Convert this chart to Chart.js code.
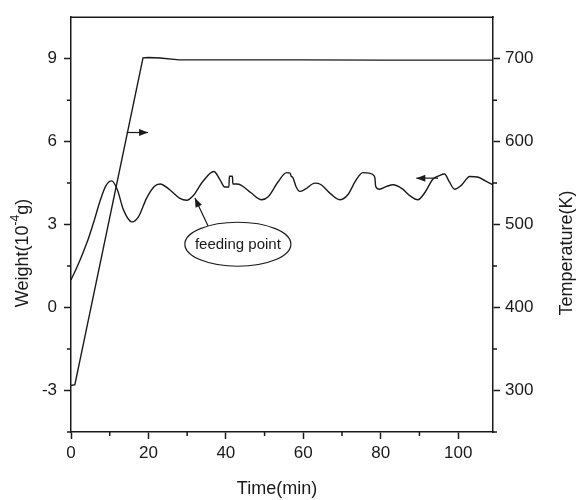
<!DOCTYPE html>
<html>
<head>
<meta charset="utf-8">
<script src="https://cdn.jsdelivr.net/npm/chart.js@4.4.1/dist/chart.umd.min.js"></script>
<style>
  html, body { margin: 0; padding: 0; background: #fff; }
</style>
</head>
<body>
<canvas id="chart" width="582" height="500"></canvas>
<script>
// weight (left axis, 10^-4 g) vs time (min)
const weightTime = [0, 1.5, 3, 4.5, 6, 7.5, 9, 10.5, 12, 13.5, 15.7, 17.5, 19.5, 21.5, 23, 25.5, 28, 29.9,
  31.6, 34, 36.9, 38.5, 39.7, 40.8, 40.9, 41.7, 41.8, 42.8, 44, 46.5, 49.2, 51, 53.5, 55.7, 56.6, 56.9,
  57.2, 58.2, 59.1, 60.5, 63, 64.5, 67, 69.4, 71.5, 73.5, 75.4, 77, 78.3, 78.5, 78.7, 79.7, 81.5, 83.2,
  85.5, 87.5, 89.6, 91.5, 93.5, 95, 96.5, 97.7, 99.1, 100.8, 103, 105, 107, 109]
const weightValue = [1.0, 1.45, 1.95, 2.5, 3.15, 3.85, 4.4, 4.58, 4.25, 3.55, 3.1, 3.3, 3.95, 4.38, 4.47, 4.26, 3.96, 3.88,
  4.05, 4.55, 4.92, 4.62, 4.36, 4.36, 4.75, 4.75, 4.47, 4.47, 4.42, 4.15, 3.9, 4.02, 4.55, 4.88, 4.86, 4.74,
  4.72, 4.35, 4.2, 4.28, 4.5, 4.45, 4.12, 3.9, 4.08, 4.58, 4.88, 4.86, 4.76, 4.68, 4.38, 4.28, 4.38, 4.44,
  4.3, 4.05, 3.9, 4.18, 4.65, 4.76, 4.83, 4.55, 4.28, 4.42, 4.74, 4.72, 4.58, 4.44]

// temperature (right axis, K) vs time (min)
const tempTime = [0, 1, 18.6, 20, 23, 28, 40, 60, 80, 100, 109]
const tempValue = [306, 307, 701, 701.5, 700.8, 698.5, 698.5, 698.5, 698.3, 698.3, 698.3]

// tick labels
const timeTicks = [0, 20, 40, 60, 80, 100]
const weightTicks = [-3, 0, 3, 6, 9]
const tempTicks = [300, 400, 500, 600, 700]

// annotations (data units)
const tempArrow = { from: 14.4, to: 19.9, value: 611 }
const weightArrow = { from: 94.8, to: 89.2, value: 4.68 }
const feedArrow = { fromT: 35.4, fromW: 2.95, toT: 32.0, toW: 3.96 }
const feedLabel = { t: 43.1, w: 2.29, text: 'feeding point' }

const INK = '#1a1a1a'
const FONT = '"Liberation Sans", Arial, sans-serif'

const isMajor = (list, v) => list.includes(Math.round(v * 100) / 100)

function axis(majors, extra) {
  return Object.assign({
    border: { display: true, color: INK, width: 1.5 },
    grid: {
      display: true,
      drawOnChartArea: false,
      drawTicks: true,
      tickLength: 7,
      tickWidth: 1.5,
      tickColor: (ctx) => (ctx.tick && isMajor(majors, ctx.tick.value) ? INK : 'rgba(0,0,0,0)'),
    },
    ticks: {
      color: INK,
      font: { family: FONT, size: 17 },
      includeBounds: false,
      autoSkip: false,
      maxRotation: 0,
      callback: (v) => (isMajor(majors, v) ? String(v) : ''),
    },
  }, extra)
}

function arrowHead(ctx, x, y, dx, dy, len, half) {
  const n = Math.hypot(dx, dy)
  const ux = dx / n, uy = dy / n
  ctx.beginPath()
  ctx.moveTo(x, y)
  ctx.lineTo(x - ux * len - uy * half, y - uy * len + ux * half)
  ctx.lineTo(x - ux * len + uy * half, y - uy * len - ux * half)
  ctx.closePath()
  ctx.fill()
}

const decorations = {
  id: 'decorations',
  afterDraw(chart) {
    const { ctx, chartArea, scales } = chart
    const { x, y, y1 } = scales
    ctx.save()
    ctx.strokeStyle = INK
    ctx.fillStyle = INK
    ctx.lineWidth = 1.5

    // top frame line
    ctx.beginPath()
    ctx.moveTo(chartArea.left - 0.75, chartArea.top)
    ctx.lineTo(chartArea.right + 0.75, chartArea.top)
    ctx.stroke()

    // minor ticks
    ctx.beginPath()
    x.ticks.forEach((t) => {
      if (isMajor(timeTicks, t.value)) return
      const px = x.getPixelForValue(t.value)
      ctx.moveTo(px, chartArea.bottom)
      ctx.lineTo(px, chartArea.bottom + 4)
    })
    y.ticks.forEach((t) => {
      if (isMajor(weightTicks, t.value) || t.value === y.max) return
      const py = y.getPixelForValue(t.value)
      ctx.moveTo(chartArea.left, py)
      ctx.lineTo(chartArea.left - 4, py)
    })
    y1.ticks.forEach((t) => {
      if (isMajor(tempTicks, t.value) || t.value === y1.max) return
      const py = y1.getPixelForValue(t.value)
      ctx.moveTo(chartArea.right, py)
      ctx.lineTo(chartArea.right + 4, py)
    })
    ctx.stroke()

    // arrows pointing at the axis each curve belongs to
    ctx.lineWidth = 1.2
    const drawArrow = (x0, y0, x1, y1p) => {
      ctx.beginPath()
      ctx.moveTo(x0, y0)
      ctx.lineTo(x1, y1p)
      ctx.stroke()
      arrowHead(ctx, x1, y1p, x1 - x0, y1p - y0, 9, 3.5)
    }
    drawArrow(x.getPixelForValue(tempArrow.from), y1.getPixelForValue(tempArrow.value),
      x.getPixelForValue(tempArrow.to), y1.getPixelForValue(tempArrow.value))
    drawArrow(x.getPixelForValue(weightArrow.from), y.getPixelForValue(weightArrow.value),
      x.getPixelForValue(weightArrow.to), y.getPixelForValue(weightArrow.value))
    drawArrow(x.getPixelForValue(feedArrow.fromT), y.getPixelForValue(feedArrow.fromW),
      x.getPixelForValue(feedArrow.toT), y.getPixelForValue(feedArrow.toW))

    // feeding point label in an ellipse
    const cx = x.getPixelForValue(feedLabel.t)
    const cy = y.getPixelForValue(feedLabel.w)
    ctx.fillStyle = '#fff'
    ctx.beginPath()
    ctx.ellipse(cx, cy, 53, 22, 0, 0, Math.PI * 2)
    ctx.fill()
    ctx.stroke()
    ctx.fillStyle = INK
    ctx.font = '15px ' + FONT
    ctx.textAlign = 'center'
    ctx.textBaseline = 'middle'
    ctx.fillText(feedLabel.text, cx, cy + 1)

    // axis titles
    ctx.font = '18px ' + FONT
    ctx.fillText('Time(min)', 277, 489)

    ctx.save()
    ctx.translate(567, 253)
    ctx.rotate(-Math.PI / 2)
    ctx.fillText('Temperature(K)', 0, 0)
    ctx.restore()

    // Weight(10^-4 g) with a raised exponent
    ctx.save()
    ctx.translate(23, 253)
    ctx.rotate(-Math.PI / 2)
    ctx.textAlign = 'left'
    const big = '18px ' + FONT, small = '12px ' + FONT
    ctx.font = big
    const w1 = ctx.measureText('Weight(10').width
    const w3 = ctx.measureText('g)').width
    ctx.font = small
    const w2 = ctx.measureText('-4').width
    let sx = -(w1 + w2 + w3) / 2
    ctx.font = big
    ctx.fillText('Weight(10', sx, 0)
    sx += w1
    ctx.font = small
    ctx.fillText('-4', sx, -7)
    sx += w2
    ctx.font = big
    ctx.fillText('g)', sx, 0)
    ctx.restore()

    ctx.restore()
  },
}

new Chart(document.getElementById('chart'), {
  type: 'line',
  data: {
    datasets: [
      {
        label: 'Weight',
        data: weightTime.map((t, i) => ({ x: t, y: weightValue[i] })),
        yAxisID: 'y',
        borderColor: INK,
        borderWidth: 1.4,
        pointRadius: 0,
        cubicInterpolationMode: 'monotone',
        fill: false,
      },
      {
        label: 'Temperature',
        data: tempTime.map((t, i) => ({ x: t, y: tempValue[i] })),
        yAxisID: 'y1',
        borderColor: INK,
        borderWidth: 1.4,
        pointRadius: 0,
        tension: 0,
        fill: false,
      },
    ],
  },
  options: {
    responsive: false,
    animation: false,
    events: [],
    layout: { padding: { top: 13, right: 0, bottom: 0, left: 0 } },
    plugins: {
      legend: { display: false },
      tooltip: { enabled: false },
    },
    scales: {
      x: axis(timeTicks, {
        type: 'linear',
        position: 'bottom',
        min: 0,
        max: 109,
        afterFit: (s) => { s.height = 68 },
        ticks: Object.assign(axis(timeTicks).ticks, { stepSize: 10, padding: 4 }),
      }),
      y: axis(weightTicks, {
        type: 'linear',
        position: 'left',
        min: -4.5,
        max: 10.5,
        afterFit: (s) => { s.width = 71 },
        ticks: Object.assign(axis(weightTicks).ticks, { stepSize: 1.5, padding: 7 }),
      }),
      y1: axis(tempTicks, {
        type: 'linear',
        position: 'right',
        min: 250,
        max: 750,
        afterFit: (s) => { s.width = 89 },
        ticks: Object.assign(axis(tempTicks).ticks, { stepSize: 50, padding: 5 }),
      }),
    },
  },
  plugins: [decorations],
})
</script>
</body>
</html>
